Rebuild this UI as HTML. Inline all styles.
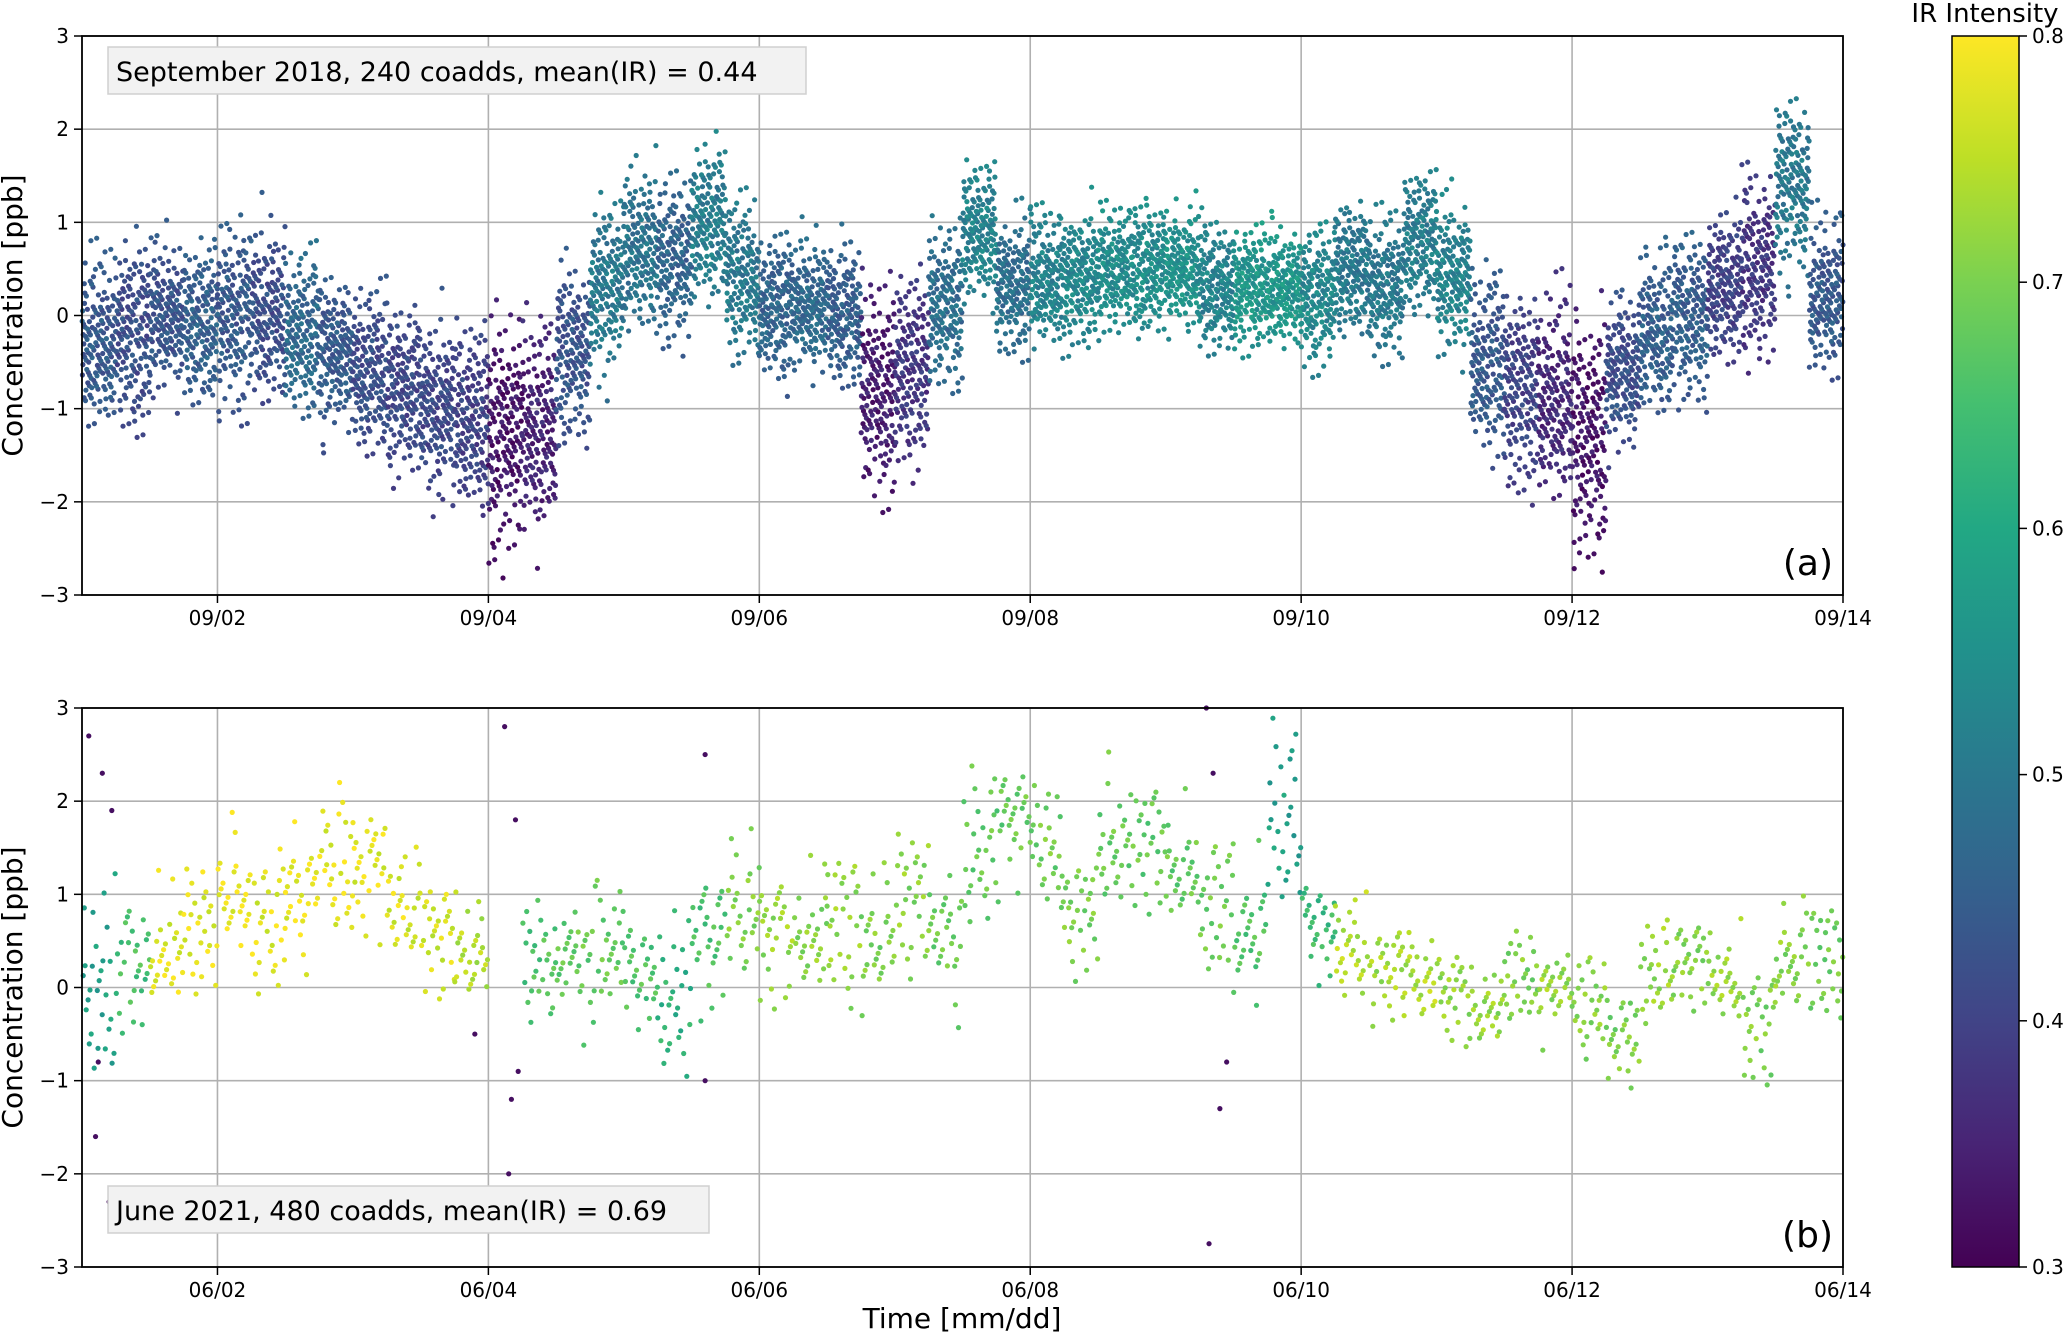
<!DOCTYPE html>
<html><head><meta charset="utf-8">
<style>
html,body{margin:0;padding:0;background:#fff;}
svg{display:block;font-family:"DejaVu Sans","Liberation Sans",sans-serif;}
</style></head>
<body>
<svg id="chart" width="2067" height="1335" viewBox="0 0 2067 1335" xmlns="http://www.w3.org/2000/svg">
<defs>
<linearGradient id="viridis" x1="0" y1="1" x2="0" y2="0">
<stop offset="0" stop-color="#440154"/><stop offset="0.1" stop-color="#482475"/><stop offset="0.2" stop-color="#414487"/><stop offset="0.3" stop-color="#355f8d"/><stop offset="0.4" stop-color="#2a788e"/><stop offset="0.5" stop-color="#21918c"/><stop offset="0.6" stop-color="#22a884"/><stop offset="0.7" stop-color="#44bf70"/><stop offset="0.8" stop-color="#7ad151"/><stop offset="0.9" stop-color="#bddf26"/><stop offset="1" stop-color="#fde725"/>
</linearGradient>
</defs>
<g id="layer"></g>
</svg>
<script>
// ---- data ----
const binStartsA = [0,0.25,0.5,0.75,1,1.25,1.5,1.75,2,2.25,2.5,2.75,3,3.25,3.5,3.75,4,4.25,4.5,4.75,5,5.25,5.5,5.75,6,6.25,6.5,6.75,7,7.25,7.5,7.75,8,8.25,8.5,8.75,9,9.25,9.5,9.75,10,10.25,10.5,10.75,11,11.25,11.5,11.75,12,12.25,12.5,12.75];
const centerA = [-0.3,-0.2,0.0,-0.1,0.0,0.0,-0.2,-0.4,-0.6,-0.8,-1.0,-1.1,-1.3,-1.2,-0.4,0.3,0.7,0.6,1.0,0.4,0.1,0.1,0.0,-0.8,-0.6,0.1,0.9,0.3,0.4,0.4,0.5,0.5,0.5,0.3,0.3,0.3,0.2,0.5,0.3,0.8,0.4,-0.5,-0.8,-0.9,-1.3,-0.6,-0.2,0.0,0.3,0.5,1.4,0.2];
const spreadA = [0.45,0.45,0.4,0.4,0.45,0.45,0.4,0.4,0.4,0.4,0.45,0.45,0.6,0.55,0.45,0.45,0.4,0.4,0.4,0.4,0.35,0.35,0.35,0.55,0.5,0.4,0.35,0.35,0.35,0.35,0.32,0.32,0.32,0.32,0.3,0.3,0.35,0.35,0.35,0.35,0.4,0.45,0.5,0.55,0.6,0.4,0.4,0.4,0.4,0.45,0.45,0.4];
const irA = [0.44,0.42,0.43,0.45,0.44,0.42,0.47,0.44,0.42,0.41,0.41,0.40,0.33,0.35,0.43,0.50,0.49,0.46,0.51,0.50,0.46,0.47,0.45,0.34,0.38,0.48,0.52,0.48,0.52,0.53,0.54,0.54,0.55,0.52,0.56,0.56,0.53,0.50,0.50,0.51,0.52,0.44,0.40,0.36,0.33,0.42,0.45,0.45,0.40,0.38,0.50,0.44];

const binStartsB = [0,0.25,0.5,0.75,1,1.25,1.5,1.75,2,2.25,2.5,2.75,3.25,3.5,3.75,4,4.25,4.5,4.75,5,5.25,5.5,5.75,6,6.25,6.5,6.75,7,7.25,7.5,7.75,8,8.25,8.5,8.75,9,9.25,9.5,9.75,10,10.25,10.5,10.75,11,11.25,11.5,11.75,12,12.25,12.5,12.75];
const centerB = [0.0,0.2,0.4,0.6,1.0,0.7,1.0,1.3,1.3,0.9,0.5,0.4,0.3,0.3,0.4,0.2,-0.2,0.5,0.9,0.5,0.6,0.7,0.5,0.9,0.6,1.5,1.8,1.5,0.8,1.5,1.5,1.3,0.8,0.6,1.8,0.7,0.4,0.2,0.1,-0.1,-0.2,0.1,0.0,-0.2,-0.5,0.1,0.3,0.1,-0.4,0.3,0.3];
const spreadB = [0.6,0.35,0.35,0.35,0.35,0.35,0.35,0.35,0.35,0.3,0.3,0.3,0.35,0.35,0.35,0.35,0.4,0.4,0.4,0.35,0.35,0.35,0.35,0.35,0.4,0.4,0.35,0.35,0.35,0.35,0.35,0.35,0.35,0.4,0.5,0.3,0.25,0.25,0.25,0.25,0.25,0.25,0.25,0.25,0.3,0.25,0.25,0.25,0.3,0.3,0.3];
const irB = [0.58,0.65,0.78,0.78,0.79,0.78,0.79,0.78,0.78,0.77,0.77,0.74,0.66,0.68,0.68,0.66,0.62,0.66,0.70,0.72,0.71,0.72,0.70,0.71,0.69,0.68,0.68,0.69,0.70,0.68,0.68,0.68,0.69,0.66,0.58,0.64,0.74,0.73,0.74,0.72,0.72,0.70,0.72,0.71,0.70,0.72,0.71,0.72,0.70,0.71,0.69];
const outlierDaysB = [0.05,0.1,0.15,0.2,0.22,3.12,3.15,3.17,3.2,3.22,4.6,4.6,8.3,8.32,8.35,8.4,8.45,2.9,0.12];
const outlierValsB = [2.7,-1.6,2.3,-2.3,1.9,2.8,-2.0,-1.2,1.8,-0.9,2.5,-1.0,3.0,-2.75,2.3,-1.3,-0.8,-0.5,-0.8];

const yTicks = [-3,-2,-1,0,1,2,3];
const xTicksA = ['09/02','09/04','09/06','09/08','09/10','09/12','09/14'];
const xTicksB = ['06/02','06/04','06/06','06/08','06/10','06/12','06/14'];
const cbTicks = [0.3,0.4,0.5,0.6,0.7,0.8];

// ---- layout ----
const L=82, R=1843;
const panels=[{top:36,bot:595},{top:708,bot:1267}];
const xs = d => L + d*(R-L)/13;
const ysFor = p => v => p.bot - (v+3)*(p.bot-p.top)/6;
const NS='http://www.w3.org/2000/svg';
const layer=document.getElementById('layer');
function mk(tag,attrs,parent){const e=document.createElementNS(NS,tag);for(const k in attrs)e.setAttribute(k,attrs[k]);(parent||layer).appendChild(e);return e;}
const vstops=[[68,1,84],[72,36,117],[65,68,135],[53,95,141],[42,120,142],[33,145,140],[34,168,132],[68,191,112],[122,209,81],[189,223,38],[253,231,37]];
function viridis(t){t=Math.max(0,Math.min(1,t));const f=t*10,i=Math.min(9,Math.floor(f)),r=f-i;const a=vstops[i],b=vstops[i+1];return 'rgb('+a.map((c,k)=>Math.round(c+(b[k]-c)*r)).join(',')+')';}
const irColor = v => viridis((v-0.3)/0.5);
const frac = x => x-Math.floor(x);

function drawPanel(idx,starts,centers,spreads,irs,perBin,ticks,label,ann,annY){
  const p=panels[idx], ys=ysFor(p);
  const g=mk('g',{});
  
  
  ticks.forEach((lab,k)=>{const gl=mk('line',{x1:xs(1+k*2),x2:xs(1+k*2),y1:p.top,y2:p.bot,stroke:'#b0b0b0','stroke-width':1.6},g);});
  yTicks.forEach(v=>{const gl=mk('line',{x1:L,x2:R,y1:ys(v),y2:ys(v),stroke:'#b0b0b0','stroke-width':1.6},g);});
  const pts=mk('g',{},g);
  
  
  let n=0;
  starts.forEach((s,b)=>{
    for(let i=0;i<perBin;i++){n++;
      const ux=frac(n*0.6180339887), u1=frac(n*0.7548776662), u2=frac(n*0.5698402910), u3=frac(n*0.4142135623), uc=frac(n*0.3247179572);
      const d=s+ux*0.25;
      const v=centers[b]+(u1+u2+u3-1.5)*2*spreads[b];
      if(v<-3||v>3) continue;
      const c=mk('circle',{cx:xs(d).toFixed(1),cy:ys(v).toFixed(1),r:2.6,fill:irColor(irs[b]+(uc-0.5)*0.06)},pts);
      
      
    }
  });
  if(idx===1){outlierDaysB.forEach((d,i)=>{const c=mk('circle',{cx:xs(d),cy:ys(outlierValsB[i]),r:2.6,fill:irColor(0.32)},pts);});}
  const box=mk('rect',{x:L,y:p.top,width:R-L,height:p.bot-p.top,fill:'none',stroke:'#000','stroke-width':1.8},g);
  
  yTicks.forEach(v=>{mk('line',{x1:L-8,x2:L,y1:ys(v),y2:ys(v),stroke:'#000','stroke-width':1.5},g);
    const t=mk('text',{x:L-13,y:ys(v)+7,'text-anchor':'end','font-size':20,fill:'#000'},g);t.textContent=(v<0?'\u2212'+(-v):String(v));
    });
  ticks.forEach((lab,k)=>{const x=xs(1+k*2);mk('line',{x1:x,x2:x,y1:p.bot,y2:p.bot+8,stroke:'#000','stroke-width':1.5},g);
    const t=mk('text',{x:x,y:p.bot+30,'text-anchor':'middle','font-size':20,fill:'#000'},g);t.textContent=lab;
    });
  const yl=mk('text',{x:0,y:0,'text-anchor':'middle','font-size':28,fill:'#000',transform:'translate(22,'+((p.top+p.bot)/2)+') rotate(-90)'},g);
  yl.textContent='Concentration [ppb]';
  const aw = idx===0?698:601;
  const ab=mk('rect',{x:108,y:annY,width:aw,height:47,fill:'#f2f2f2',stroke:'#d0d0d0','stroke-width':1.5},g);
  
  const at=mk('text',{x:116,y:annY+34,'font-size':27,fill:'#000'},g);at.textContent=ann;
  
  const pl=mk('text',{x:R-10,y:p.bot-20,'text-anchor':'end','font-size':36,fill:'#000'},g);pl.textContent='('+label+')';
  
}
drawPanel(0,binStartsA,centerA,spreadA,irA,150,xTicksA,'a','September 2018, 240 coadds, mean(IR) = 0.44',47);
drawPanel(1,binStartsB,centerB,spreadB,irB,28,xTicksB,'b','June 2021, 480 coadds, mean(IR) = 0.69',1186);

const xl=mk('text',{x:962,y:1328,'text-anchor':'middle','font-size':28,fill:'#000'});
xl.textContent='Time [mm/dd]';

const cbx=1952,cbw=67,cbt=36,cbb=1267;
const cb=mk('rect',{x:cbx,y:cbt,width:cbw,height:cbb-cbt,fill:'url(#viridis)',stroke:'#000','stroke-width':1.5});

cbTicks.forEach(v=>{const y=cbb-(v-0.3)/0.5*(cbb-cbt);mk('line',{x1:cbx+cbw,x2:cbx+cbw+8,y1:y,y2:y,stroke:'#000','stroke-width':1.5});
  const t=mk('text',{x:cbx+cbw+13,y:y+7,'font-size':20,fill:'#000'});t.textContent=v.toFixed(1);
  });
const ct=mk('text',{x:1985,y:22,'text-anchor':'middle','font-size':26,fill:'#000'});
ct.textContent='IR Intensity';
</script>
</body></html>
